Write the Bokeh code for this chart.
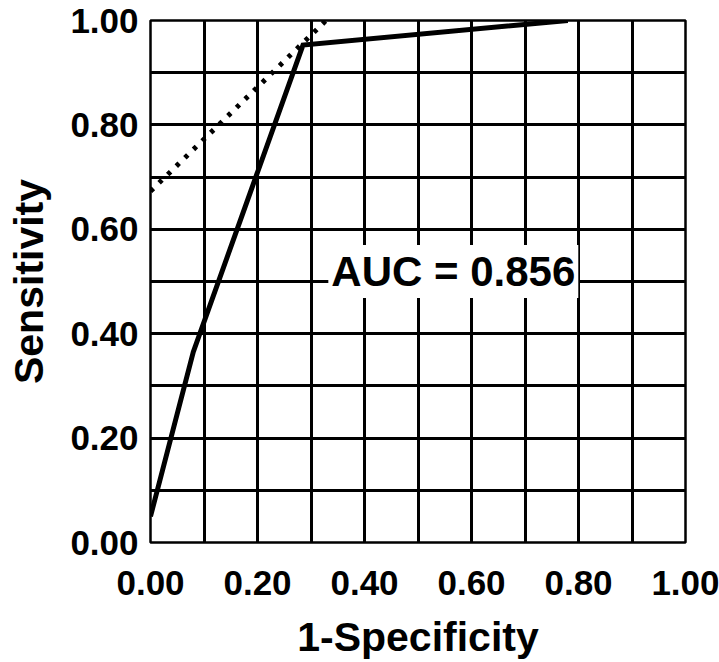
from bokeh.plotting import figure
from bokeh.models import Range1d, FixedTicker, NumeralTickFormatter, Label
from bokeh.embed import file_html
from bokeh.resources import INLINE

# ---- data ----
roc_fpr = [0.0, 0.08, 0.285, 0.78]
roc_tpr = [0.05, 0.365, 0.953, 1.0]
tangent_fpr = [0.0, 0.328]
tangent_tpr = [0.673, 1.0]
tick_values = [0.0, 0.2, 0.4, 0.6, 0.8, 1.0]
grid_values = [0.1, 0.2, 0.3, 0.4, 0.5, 0.6, 0.7, 0.8, 0.9]
auc_text = "AUC = 0.856"
auc_pos = (0.566, 0.519)
x_title = "1-Specificity"
y_title = "Sensitivity"

FONT = "Liberation Sans"

p = figure(width=719, height=662,
           x_range=Range1d(0, 1), y_range=Range1d(0, 1),
           output_backend="svg", toolbar_location=None,
           min_border_left=150, min_border_right=34,
           min_border_top=20, min_border_bottom=120)
p.background_fill_color = "white"
p.border_fill_color = "white"
p.outline_line_color = "black"
p.outline_line_width = 2.5

for ax in (p.xaxis, p.yaxis):
    ax.ticker = FixedTicker(ticks=tick_values)
    ax.formatter = NumeralTickFormatter(format="0.00")
    ax.axis_line_color = None
    ax.major_tick_line_color = None
    ax.minor_tick_line_color = None
    ax.major_tick_in = 0
    ax.major_tick_out = 0
    ax.minor_tick_in = 0
    ax.minor_tick_out = 0
    ax.major_label_text_font = FONT
    ax.major_label_text_font_style = "bold"
    ax.major_label_text_font_size = "35px"
    ax.major_label_text_color = "black"
    ax.axis_label_text_font = FONT
    ax.axis_label_text_font_style = "bold"
    ax.axis_label_text_font_size = "41px"
    ax.axis_label_text_color = "black"

p.xaxis.axis_label = x_title
p.yaxis.axis_label = y_title
p.xaxis.major_label_standoff = 28
p.xaxis.axis_label_standoff = 16
p.yaxis.major_label_standoff = 12
p.yaxis.axis_label_standoff = 15

for g in (p.xgrid, p.ygrid):
    g.ticker = FixedTicker(ticks=grid_values)
    g.grid_line_color = "black"
    g.grid_line_width = 3
    g.grid_line_alpha = 1.0

p.line(roc_fpr, roc_tpr, line_width=5, line_color="black",
       line_join="miter", line_cap="butt")
p.line(tangent_fpr, tangent_tpr, line_width=5, line_color="black",
       line_dash="4 8", line_cap="butt")

lab = Label(x=auc_pos[0], y=auc_pos[1], text=auc_text,
            text_align="center", text_baseline="middle",
            text_font=FONT, text_font_style="bold", text_font_size="42px",
            text_color="black",
            background_fill_color="white", background_fill_alpha=1.0,
            padding=3)
p.add_layout(lab)

open("out.html", "w").write(file_html(p, INLINE))
